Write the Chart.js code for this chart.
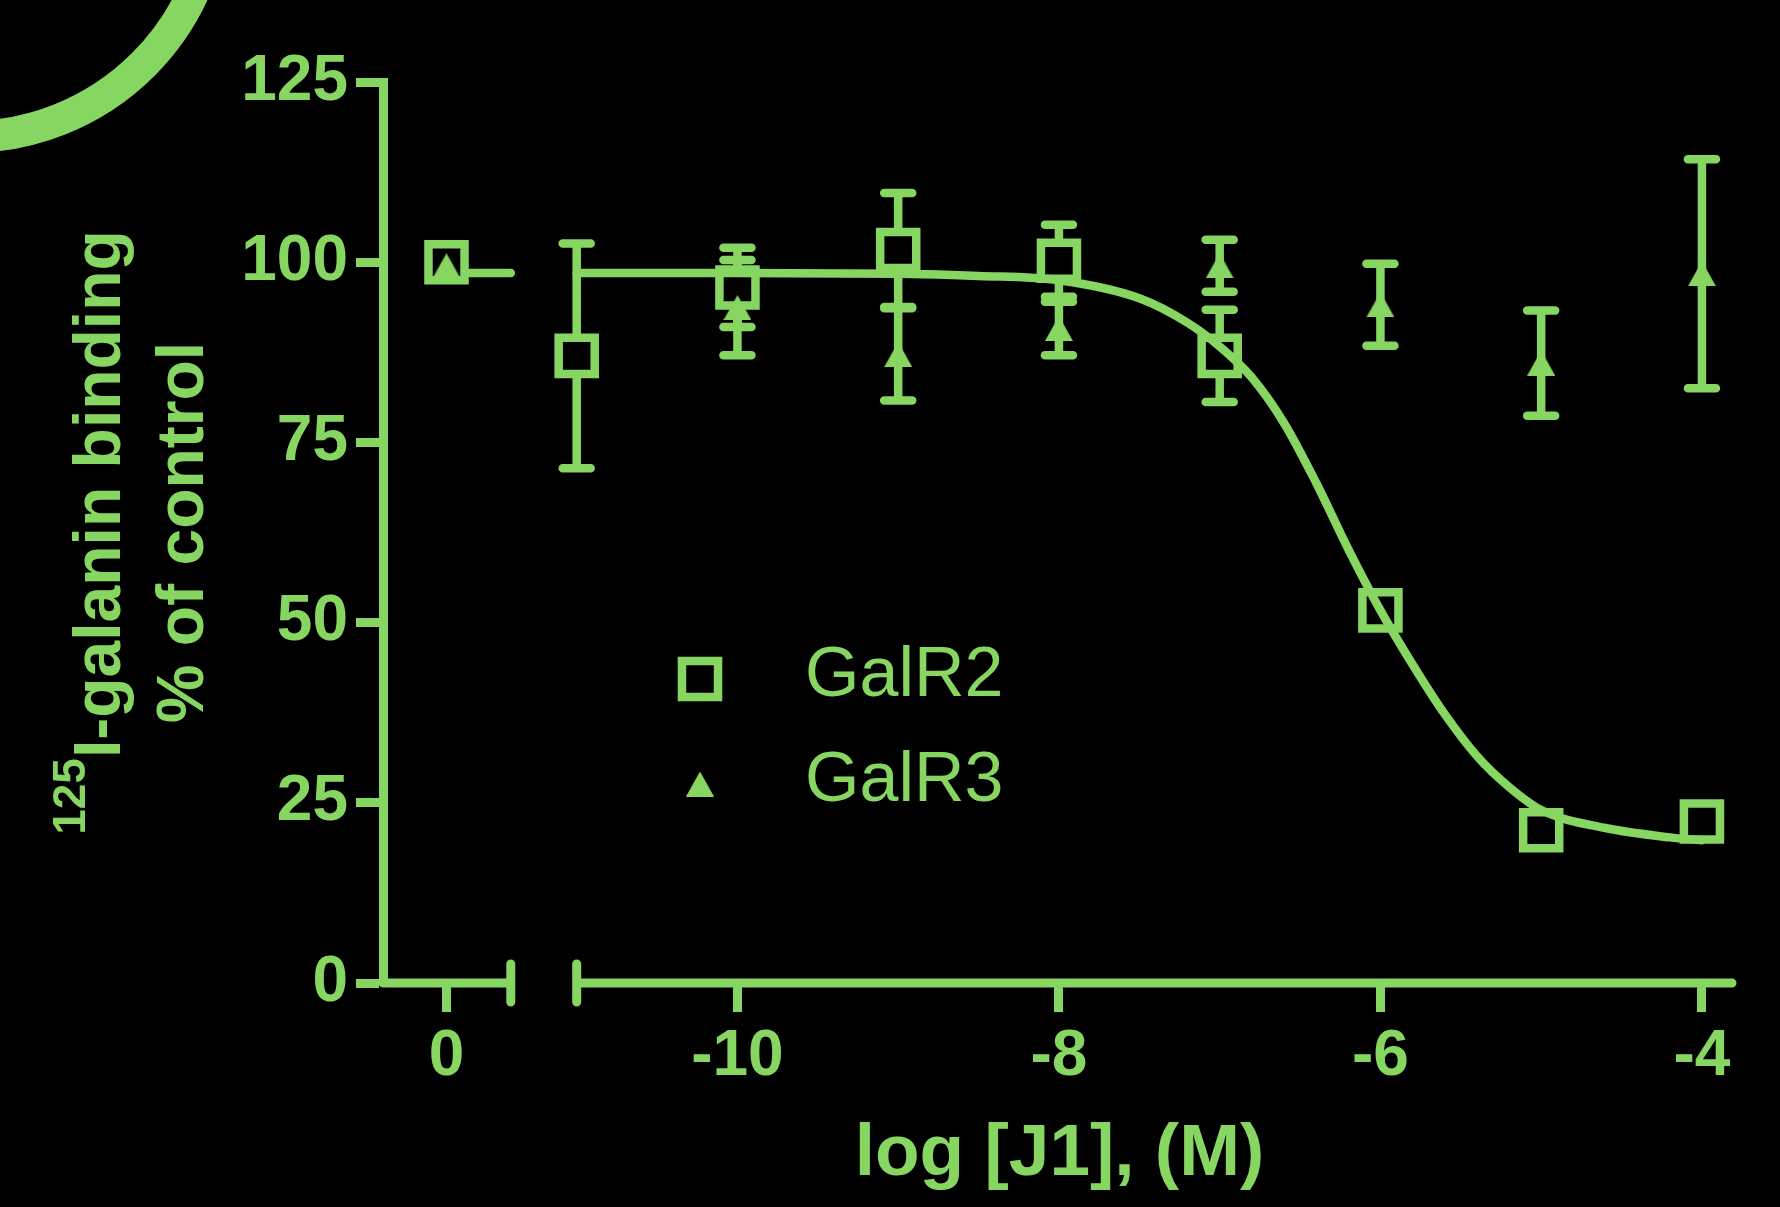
<!DOCTYPE html>
<html>
<head>
<meta charset="utf-8">
<script src="https://cdn.jsdelivr.net/npm/chart.js@4.4.0/dist/chart.umd.min.js"></script>
<style>
  html, body { margin: 0; padding: 0; background: #000; }
  canvas { display: block; }
</style>
</head>
<body>
<canvas id="chart" width="1780" height="1207"></canvas>
<script>
// log [J1] (M); 0 = control without J1 (drawn on the short left axis segment)
const xValues = [0, -11, -10, -9, -8, -7, -6, -5, -4];

// GalR2 (open squares), mean and error (% of control)
const galr2Mean = [100, 87, 96.5, 101.7, 100.2, 87, 51.7, 21.2, 22.4];
const galr2Err = [0, 15.6, 5.5, 7.9, 5.0, 6.4, 0, 0, 0];

// GalR3 (filled triangles), no point at -11
const galr3Mean = [99.5, null, 93.7, 87.2, 90.8, 99.5, 94.1, 86.0, 98.4];
const galr3Err = [0, null, 6.6, 6.4, 3.7, 3.6, 5.7, 7.3, 15.9];

// fitted curve for GalR2
const curveX = [-11, -10, -9, -8.5, -8, -7.5, -7.2, -7, -6.8, -6.6, -6.4, -6.2, -6, -5.8, -5.6, -5.4, -5.2, -5, -4.6, -4.2, -4];
const curveY = [98.5, 98.5, 98.4, 98.1, 97.5, 95.0, 91.6, 88.3, 84.0, 77.7, 69.4, 60.2, 51.7, 44.2, 37.3, 31.5, 27.2, 24.0, 21.5, 20.2, 19.8];

// top plateau of the fit on the control segment (offset from the control point)
const plateauX = [0, 0.4];
const plateauY = [98.5, 98.5];

const xTickValues = [0, -10, -8, -6, -4];
const xTickLabels = ['0', '-10', '-8', '-6', '-4'];
const yTickValues = [0, 25, 50, 75, 100, 125];

const seriesLabels = ['GalR2', 'GalR3'];
const xTitle = 'log [J1], (M)';
const yTitleSup = '125';
const yTitleLine1 = 'I-galanin binding';
const yTitleLine2 = '% of control';

const GREEN = 'rgb(136, 214, 98)';
const FONT = '"Liberation Sans", Arial, Helvetica, sans-serif';

// axis break: the control sits on its own little segment left of the -11 start
const ZERO_POS = -11.81;
const BREAK_LEFT = -11.41;
const BREAK_RIGHT = -11;
const X_MIN = -12.205;
const X_MAX = -3.788;

function toAxisX(v) {
  return v >= -1 ? ZERO_POS + v : v;
}

function makeTriangle(w, h, color) {
  const c = document.createElement('canvas');
  c.width = w;
  c.height = h;
  const g = c.getContext('2d');
  g.fillStyle = color;
  g.beginPath();
  g.moveTo(w / 2, 0);
  g.lineTo(w, h);
  g.lineTo(0, h);
  g.closePath();
  g.fill();
  return c;
}
const triangleImg = makeTriangle(28, 25, GREEN);

const galr2Points = xValues.map((x, i) => ({x: toAxisX(x), y: galr2Mean[i]}));
const galr3Points = xValues
  .map((x, i) => ({x: toAxisX(x), y: galr3Mean[i]}))
  .filter(p => p.y !== null);
const curvePoints = curveX.map((x, i) => ({x: toAxisX(x), y: curveY[i]}));
const plateauPoints = plateauX.map((x, i) => ({x: toAxisX(x), y: plateauY[i]}));

// black page plus the green ring in the corner
const background = {
  id: 'background',
  beforeDraw(chart) {
    const {ctx, width, height} = chart;
    ctx.save();
    ctx.fillStyle = '#000';
    ctx.fillRect(0, 0, width, height);
    ctx.strokeStyle = GREEN;
    ctx.lineWidth = 32;
    ctx.beginPath();
    ctx.arc(-32, -111, 248, 0, Math.PI * 2);
    ctx.stroke();
    ctx.restore();
  }
};

// x axis in two pieces with end bars at the break
const brokenAxis = {
  id: 'brokenAxis',
  beforeDatasetsDraw(chart) {
    const {ctx, chartArea, scales} = chart;
    const x = scales.x;
    const y0 = chartArea.bottom;
    const leftEnd = x.getPixelForValue(BREAK_LEFT);
    const rightStart = x.getPixelForValue(BREAK_RIGHT);
    ctx.save();
    ctx.strokeStyle = GREEN;
    ctx.lineWidth = 9;
    ctx.lineCap = 'round';
    ctx.beginPath();
    ctx.moveTo(chartArea.left, y0);
    ctx.lineTo(leftEnd, y0);
    ctx.moveTo(leftEnd, y0 - 19);
    ctx.lineTo(leftEnd, y0 + 19);
    ctx.moveTo(rightStart, y0 - 19);
    ctx.lineTo(rightStart, y0 + 19);
    ctx.moveTo(rightStart, y0);
    ctx.lineTo(chartArea.right - 4, y0);
    ctx.stroke();
    ctx.restore();
  }
};

// error bars, drawn under the markers
const errorBars = {
  id: 'errorBars',
  beforeDatasetsDraw(chart) {
    const {ctx, scales} = chart;
    const sets = [[galr2Mean, galr2Err], [galr3Mean, galr3Err]];
    ctx.save();
    ctx.strokeStyle = GREEN;
    ctx.lineWidth = 8.5;
    ctx.lineCap = 'round';
    sets.forEach(([means, errs]) => {
      xValues.forEach((xv, i) => {
        if (means[i] === null || !errs[i]) return;
        const px = scales.x.getPixelForValue(toAxisX(xv));
        const top = scales.y.getPixelForValue(means[i] + errs[i]);
        const bot = scales.y.getPixelForValue(means[i] - errs[i]);
        ctx.beginPath();
        ctx.moveTo(px, top);
        ctx.lineTo(px, bot);
        ctx.moveTo(px - 14, top);
        ctx.lineTo(px + 14, top);
        ctx.moveTo(px - 14, bot);
        ctx.lineTo(px + 14, bot);
        ctx.stroke();
      });
    });
    ctx.restore();
  }
};

// two-line rotated y title with superscript 125
const yTitle = {
  id: 'yTitle',
  afterDraw(chart) {
    const {ctx, chartArea} = chart;
    const cy = (chartArea.top + chartArea.bottom) / 2;
    const supFont = 'bold 46px ' + FONT;
    const mainFont = 'bold 66px ' + FONT;
    ctx.save();
    ctx.fillStyle = GREEN;
    ctx.textAlign = 'left';
    ctx.textBaseline = 'alphabetic';
    ctx.font = supFont;
    const wSup = ctx.measureText(yTitleSup).width;
    ctx.font = mainFont;
    const wMain = ctx.measureText(yTitleLine1).width;
    const w2 = ctx.measureText(yTitleLine2).width;
    ctx.translate(120, cy);
    ctx.rotate(-Math.PI / 2);
    const u = -(wSup + wMain) / 2;
    ctx.font = supFont;
    ctx.fillText(yTitleSup, u, -35);
    ctx.font = mainFont;
    ctx.fillText(yTitleLine1, u + wSup, 0);
    ctx.fillText(yTitleLine2, -w2 / 2, 83);
    ctx.restore();
  }
};

// legend inside the plot
const legendBox = {
  id: 'legendBox',
  afterDatasetsDraw(chart) {
    const {ctx} = chart;
    const rows = [679, 784];
    [0, 1].forEach((di, r) => {
      const ds = chart.data.datasets[di];
      ctx.save();
      ctx.strokeStyle = GREEN;
      ctx.fillStyle = ds.backgroundColor;
      ctx.lineWidth = ds.borderWidth;
      Chart.helpers.drawPoint(ctx, {
        pointStyle: ds.pointStyle,
        radius: ds.pointRadius,
        borderWidth: ds.borderWidth,
        rotation: 0
      }, 700, rows[r]);
      ctx.fillStyle = GREEN;
      ctx.font = '70px ' + FONT;
      ctx.textAlign = 'left';
      ctx.textBaseline = 'middle';
      ctx.fillText(ds.label, 805, rows[r] - 2);
      ctx.restore();
    });
  }
};

const config = {
  type: 'scatter',
  data: {
    datasets: [
      {
        label: seriesLabels[0],
        data: galr2Points,
        pointStyle: 'rect',
        pointRadius: 25.5,
        borderWidth: 8.5,
        borderColor: GREEN,
        backgroundColor: '#000',
        showLine: false,
        clip: false,
        order: 2
      },
      {
        label: seriesLabels[1],
        data: galr3Points,
        pointStyle: triangleImg,
        pointRadius: 14,
        borderWidth: 0,
        borderColor: GREEN,
        backgroundColor: GREEN,
        showLine: false,
        clip: false,
        order: 0
      },
      {
        label: 'fit',
        data: curvePoints,
        showLine: true,
        pointRadius: 0,
        borderColor: GREEN,
        borderWidth: 8.5,
        borderCapStyle: 'round',
        cubicInterpolationMode: 'monotone',
        fill: false,
        clip: false,
        order: 1
      },
      {
        label: 'plateau',
        data: plateauPoints,
        showLine: true,
        pointRadius: 0,
        borderColor: GREEN,
        borderWidth: 8.5,
        borderCapStyle: 'round',
        fill: false,
        clip: false,
        order: 3
      }
    ]
  },
  options: {
    responsive: false,
    animation: false,
    events: [],
    layout: {
      padding: {left: 0, top: 82, right: 44, bottom: 0}
    },
    plugins: {
      legend: {display: false},
      tooltip: {enabled: false}
    },
    scales: {
      x: {
        type: 'linear',
        min: X_MIN,
        max: X_MAX,
        afterBuildTicks: (scale) => {
          scale.ticks = xTickValues.map(v => ({value: toAxisX(v)}));
        },
        afterFit: (scale) => {
          scale.height = 224;
        },
        ticks: {
          autoSkip: false,
          maxRotation: 0,
          minRotation: 0,
          padding: 7,
          color: GREEN,
          font: {family: FONT, size: 64, weight: 'bold'},
          callback: (value, index) => xTickLabels[index]
        },
        grid: {
          drawOnChartArea: false,
          drawTicks: true,
          tickLength: 29,
          tickWidth: 9,
          tickColor: GREEN,
          color: GREEN
        },
        border: {display: false},
        title: {
          display: true,
          text: xTitle,
          color: GREEN,
          font: {family: FONT, size: 73, weight: 'bold'},
          padding: {top: 0, bottom: 8.5}
        }
      },
      y: {
        type: 'linear',
        min: 0,
        max: 125,
        afterBuildTicks: (scale) => {
          scale.ticks = yTickValues.map(v => ({value: v}));
        },
        afterFit: (scale) => {
          scale.width = 383;
        },
        ticks: {
          padding: 8,
          color: GREEN,
          font: {family: FONT, size: 64, weight: 'bold'}
        },
        grid: {
          drawOnChartArea: false,
          drawTicks: true,
          tickLength: 27,
          tickWidth: 9,
          tickColor: GREEN,
          color: GREEN
        },
        border: {display: true, color: GREEN, width: 9}
      }
    }
  },
  plugins: [background, brokenAxis, errorBars, yTitle, legendBox]
};

const chart = new Chart(document.getElementById('chart'), config);
</script>
</body>
</html>
